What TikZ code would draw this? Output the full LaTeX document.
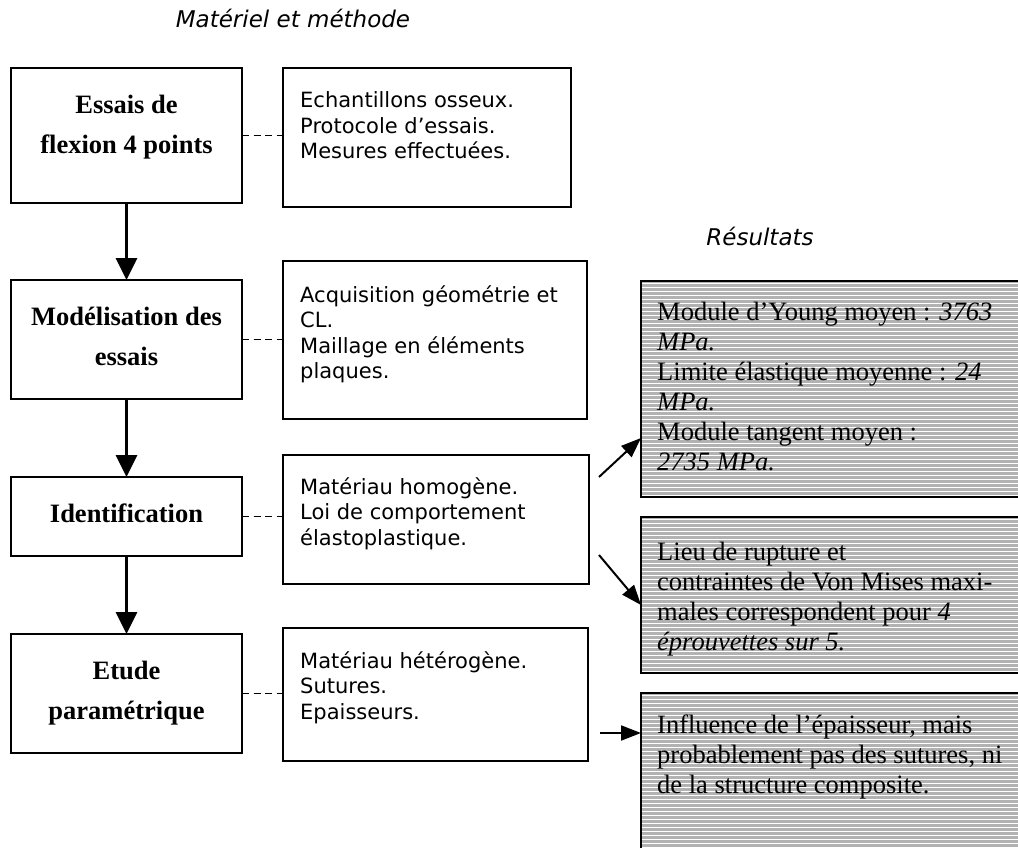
\documentclass[tikz,border=0pt]{standalone}
\usepackage{fontspec}
\setmainfont{Liberation Serif}
\newfontfamily\verd{DejaVu Sans}
\usetikzlibrary{arrows.meta,calc}
\definecolor{hatchgray}{RGB}{178,178,178}
\newcommand{\tabL}[1]{\begin{tabular}[t]{@{}l@{}}#1\end{tabular}}
\newcommand{\tabC}[1]{\begin{tabular}[t]{@{}c@{}}#1\end{tabular}}
\begin{document}
\begin{tikzpicture}[x=1pt,y=-1pt,
  lbox/.style={draw, line width=2.6pt, inner sep=0pt, outer sep=0pt},
  mbox/.style={draw, line width=1.8pt, inner sep=0pt, outer sep=0pt},
  rbox/.style={fill=hatchgray, inner sep=0pt, outer sep=0pt},
  ltext/.style={anchor=base, inner sep=0pt, font=\fontsize{26.5}{40}\selectfont\bfseries},
  mtext/.style={anchor=base west, inner sep=0pt, font=\verd\fontsize{21}{25.5}\selectfont},
  rtext/.style={anchor=base west, inner sep=0pt, font=\fontsize{26.5}{30}\selectfont},
  htext/.style={anchor=base, inner sep=0pt, font=\verd\itshape\fontsize{23}{28}\selectfont},
  flow/.style={line width=2.8pt, -{Triangle[length=22pt,width=21pt]}},
  res/.style={line width=2pt, -{Triangle[length=20pt,width=15pt]}},
  link/.style={line width=1.8pt, dash pattern=on 7pt off 4.5pt},
  hatchline/.style={white, line width=1pt}
]
\useasboundingbox (0,0) rectangle (1018,848);
\fill[white] (0,0) rectangle (1018,848);
\clip (0,0) rectangle (1018,848);

% titles
\node[htext] (t1) at (293,28) {Matériel et méthode};
\node[htext] (t2) at (760,245) {Résultats};

% left boxes
\node[lbox, minimum width=231, minimum height=135] (B1) at (126.5,135.5) {};
\node[lbox, minimum width=231, minimum height=119] (B2) at (126.5,339.5) {};
\node[lbox, minimum width=231, minimum height=79]  (B3) at (126.5,516.5) {};
\node[lbox, minimum width=231, minimum height=119] (B4) at (126.5,693.5) {};
\node[ltext] (B1t) at (126.5,114) {\tabC{Essais de\\flexion 4 points}};
\node[ltext] (B2t) at (126.5,325) {\tabC{Modélisation des\\essais}};
\node[ltext] (B3t) at (126.5,522) {Identification};
\node[ltext] (B4t) at (126.5,679) {\tabC{Etude\\paramétrique}};

% middle boxes
\node[mbox, minimum width=288, minimum height=139] (M1) at (427,137.5) {};
\node[mbox, minimum width=304, minimum height=158] (M2) at (435,340) {};
\node[mbox, minimum width=306, minimum height=129] (M3) at (436,519.5) {};
\node[mbox, minimum width=305, minimum height=133] (M4) at (435.5,694.5) {};
\node[mtext] (M1t) at (300,108) {\tabL{Echantillons osseux.\\Protocole d’essais.\\Mesures effectuées.}};
\node[mtext] (M2t) at (300,302) {\tabL{Acquisition géométrie et\\CL.\\Maillage en éléments\\plaques.}};
\node[mtext] (M3t) at (300,494) {\tabL{Matériau homogène.\\Loi de comportement\\élastoplastique.}};
\node[mtext] (M4t) at (300,668) {\tabL{Matériau hétérogène.\\Sutures.\\Epaisseurs.}};

% flow arrows
\draw[flow] (B1) -- (B2);
\draw[flow] (B2) -- (B3);
\draw[flow] (B3) -- (B4);

% dashed links
\draw[link] (B1.east) -- (B1.east -| M1.west);
\draw[link] (B2.east) -- (B2.east -| M2.west);
\draw[link] (B3.east) -- (B3.east -| M3.west);
\draw[link] (B4.east) -- (B4.east -| M4.west);

% result boxes (hatched)
\node[rbox, minimum width=399, minimum height=216] (R1) at (840.5,389) {};
\node[rbox, minimum width=399, minimum height=156] (R2) at (840.5,595) {};
\node[rbox, minimum width=399, minimum height=180] (R3) at (840.5,783) {};
\foreach \R/\n in {R1/54, R2/39, R3/45}{
  \begin{scope}
    \clip (\R.north west) rectangle (\R.south east);
    \foreach \k in {0,...,\n}
      \draw[hatchline] ($(\R.north west)+(0,\k*4+2)$) -- ++(420,0);
  \end{scope}
  \draw[line width=2pt] (\R.north west) rectangle (\R.south east);
}
\node[rtext] (R1t) at (657,320) {\tabL{Module d’Young moyen : \textit{3763}\\\textit{MPa.}\\Limite élastique moyenne : \textit{24}\\\textit{MPa.}\\Module tangent moyen :\\\textit{2735 MPa.}}};
\node[rtext] (R2t) at (657,560) {\tabL{Lieu de rupture et\\contraintes de Von Mises maxi-\\males correspondent pour \textit{4}\\\textit{éprouvettes sur 5.}}};
\node[rtext] (R3t) at (657,733) {\tabL{Influence de l’épaisseur, mais\\probablement pas des sutures, ni\\de la structure composite.}};

% result arrows
\coordinate (a1s) at (599,477);
\coordinate (a1e) at (641,438);
\coordinate (a2s) at (599,555);
\coordinate (a2e) at (641,605);
\coordinate (a3s) at (600,733);
\draw[res] (a1s) -- (a1e);
\draw[res] (a2s) -- (a2e);
\draw[res] (a3s) -- (a3s -| R3.west);
\end{tikzpicture}
\end{document}
